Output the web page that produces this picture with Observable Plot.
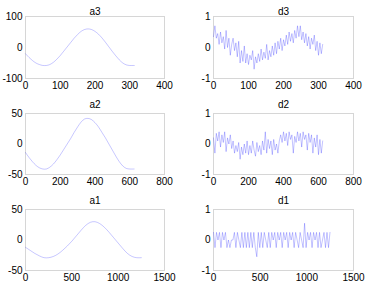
<!DOCTYPE html>
<html><head><meta charset="utf-8">
<script src="https://cdn.jsdelivr.net/npm/d3@7"></script>
<script src="https://cdn.jsdelivr.net/npm/@observablehq/plot@0.6"></script>
<style>
html,body{margin:0;padding:0;background:#fff;}
#root{position:relative;width:368px;height:286px;overflow:hidden;}
#root svg{position:absolute;}
</style></head><body><div id="root"></div>
<script>
// ---- data ----
const titles = ["a3", "d3", "a2", "d2", "a1", "d1"];

const a3X = [0,10,20,30,40,50,60,70,80,90,100,110,120,130,140,150,160,170,180,190,200,210,220,230,240,250,260,270,280,290,300,310,313];
const a3Y = [-20,-32,-42,-50,-55,-58,-58,-55,-48,-38,-26,-12,2,16,30,42,52,58,60,58,52,43,31,17,2,-13,-27,-40,-50,-56,-58,-58,-58];

const a2X = [0,20,40,60,80,100,120,140,160,180,200,220,240,260,280,300,320,340,360,380,400,420,440,460,480,500,520,540,560,580,600,625];
const a2Y = [-14,-22,-29,-35,-39,-41,-41,-38,-33,-26,-18,-9,0,9,19,28,36,41,42,40,35,28,19,10,0,-10,-20,-29,-36,-40,-41,-41];

const a1X = [0,50,100,150,200,250,300,350,400,450,500,550,600,650,700,750,800,850,900,950,1000,1050,1100,1150,1200,1250];
const a1Y = [-12,-17,-22,-26,-29,-29,-27,-23,-17,-10,-2,7,16,24,29,30,27,21,13,4,-5,-14,-22,-27,-29,-29];

// detail coefficients, one value every d3Step / d2Step / d1Step samples
const d3Step = 4;
const d3Y = [0.35,0.7,0.3,0.45,0.1,0.5,0.15,0.35,-0.05,0.55,0.0,0.3,-0.25,0.1,0.3,-0.1,0.15,-0.3,0.2,-0.5,
  -0.1,-0.45,0.05,-0.5,-0.2,-0.55,-0.25,-0.4,-0.1,-0.7,-0.3,-0.5,-0.2,-0.45,-0.05,-0.4,-0.15,-0.35,0.1,-0.4,
  -0.1,-0.3,0.05,-0.25,0.15,-0.2,0.2,-0.05,0.3,-0.1,0.25,0.05,0.4,0.1,0.5,0.2,0.45,0.15,0.55,0.3,
  0.7,0.35,0.7,0.25,0.5,0.15,0.45,0.05,0.35,-0.05,0.3,0.1,0.4,-0.1,0.2,-0.25,0.15,-0.2,0.1];

const d2Step = 8;
const d2Y = [0.2,-0.3,0.35,0.1,0.4,-0.1,0.3,0.05,0.4,-0.25,0.2,0.0,0.3,-0.15,0.1,-0.3,-0.05,-0.25,0.05,-0.5,
  -0.1,-0.35,0.0,-0.3,0.1,-0.35,-0.05,-0.3,0.1,-0.2,-0.4,0.05,-0.25,-0.05,-0.35,0.1,-0.2,0.4,-0.3,0.15,
  -0.15,0.1,-0.35,0.15,-0.2,0.0,-0.3,0.1,0.3,0.05,0.4,0.1,0.35,-0.05,0.4,0.15,0.3,-0.3,0.25,0.05,
  0.4,0.1,0.35,-0.1,0.4,0.15,0.3,-0.2,0.35,0.05,0.3,-0.3,0.2,-0.1,0.3,-0.35,0.15,-0.3,0.1];

const d1Step = 16;
const d1Y = [0.25,-0.25,0.25,0,0.25,-0.25,0.25,0,0.25,-0.25,0,-0.25,0,0,0.25,-0.25,0.25,0,-0.25,0.25,
  -0.25,0.25,-0.25,0.25,-0.25,0.25,-0.25,0.25,-0.25,-0.55,0.25,-0.25,0.25,-0.25,0.25,0,-0.25,0.25,-0.25,0.25,
  0,0.25,-0.25,0.25,0,0.25,-0.25,0.25,0,0.25,-0.25,0.25,0,0.25,-0.25,0.25,0,-0.25,0.25,0,
  -0.25,0.55,-0.25,0.25,0,0.25,-0.25,0.25,0,0.25,-0.25,0.25,-0.25,0,0.25,-0.25,0.25,-0.25,0.25];

const xTicksA3 = [0,100,200,300,400];
const xTicksA2 = [0,200,400,600,800];
const xTicksA1 = [0,500,1000,1500];
const yTicksA3 = [-100,0,100];
const yTicksA2 = [-50,0,50];
const yTicksD = [-1,0,1];

// ---- build tables ----
const pairs = (xs, ys) => xs.map((x, i) => ({x, y: ys[i]}));
const stepped = (ys, step) => ys.map((y, i) => ({x: i * step, y}));

const panels = [
  {title: titles[0], data: pairs(a3X, a3Y), xd: [0,400], xt: xTicksA3, yd: [-100,100], yt: yTicksA3, col: 0, row: 0, smooth: true},
  {title: titles[1], data: stepped(d3Y, d3Step), xd: [0,400], xt: xTicksA3, yd: [-1,1], yt: yTicksD, col: 1, row: 0},
  {title: titles[2], data: pairs(a2X, a2Y), xd: [0,800], xt: xTicksA2, yd: [-50,50], yt: yTicksA2, col: 0, row: 1, smooth: true},
  {title: titles[3], data: stepped(d2Y, d2Step), xd: [0,800], xt: xTicksA2, yd: [-1,1], yt: yTicksD, col: 1, row: 1},
  {title: titles[4], data: pairs(a1X, a1Y), xd: [0,1500], xt: xTicksA1, yd: [-50,50], yt: yTicksA2, col: 0, row: 2, smooth: true},
  {title: titles[5], data: stepped(d1Y, d1Step), xd: [0,1500], xt: xTicksA1, yd: [-1,1], yt: yTicksD, col: 1, row: 2}
];

// ---- layout ----
const colX = [25, 213], colW = [139, 140];
const rowY = [16, 113, 209], rowH = [62, 61, 61];
const titleDy = [-9, -13, -13];
const ML = 28, MR = 16, MT = 18, MB = 16;
const root = document.getElementById("root");
const fmt = d => String(d);

for (const p of panels) {
  const fw = colW[p.col], fh = rowH[p.row];
  const chart = Plot.plot({
    width: fw + ML + MR,
    height: fh + MT + MB,
    marginLeft: ML, marginRight: MR, marginTop: MT, marginBottom: MB,
    style: {fontFamily: "'Liberation Sans', Arial, sans-serif", fontSize: "10px", color: "#000", background: "transparent", overflow: "visible"},
    x: {domain: p.xd},
    y: {domain: p.yd},
    marks: [
      Plot.frame({stroke: "#d6d6d6"}),
      Plot.axisX({ticks: p.xt, tickFormat: fmt, tickSize: 0, tickPadding: 3, label: null, fontSize: 10, fill: "#000"}),
      Plot.axisY({ticks: p.yt, tickFormat: fmt, tickSize: 0, tickPadding: 3, label: null, fontSize: 10, fill: "#000"}),
      Plot.lineY(p.data, {x: "x", y: "y", stroke: "#0000ff",
        strokeOpacity: p.smooth ? 0.22 : 0.4, strokeWidth: p.smooth ? 1 : 0.6,
        curve: p.smooth ? "catmull-rom" : "linear"}),
      Plot.text([p.title], {frameAnchor: "top", dy: titleDy[p.row], fontSize: 10, fill: "#000"})
    ]
  });
  chart.style.left = (colX[p.col] - ML) + "px";
  chart.style.top = (rowY[p.row] - MT) + "px";
  root.appendChild(chart);
}
</script></body></html>
